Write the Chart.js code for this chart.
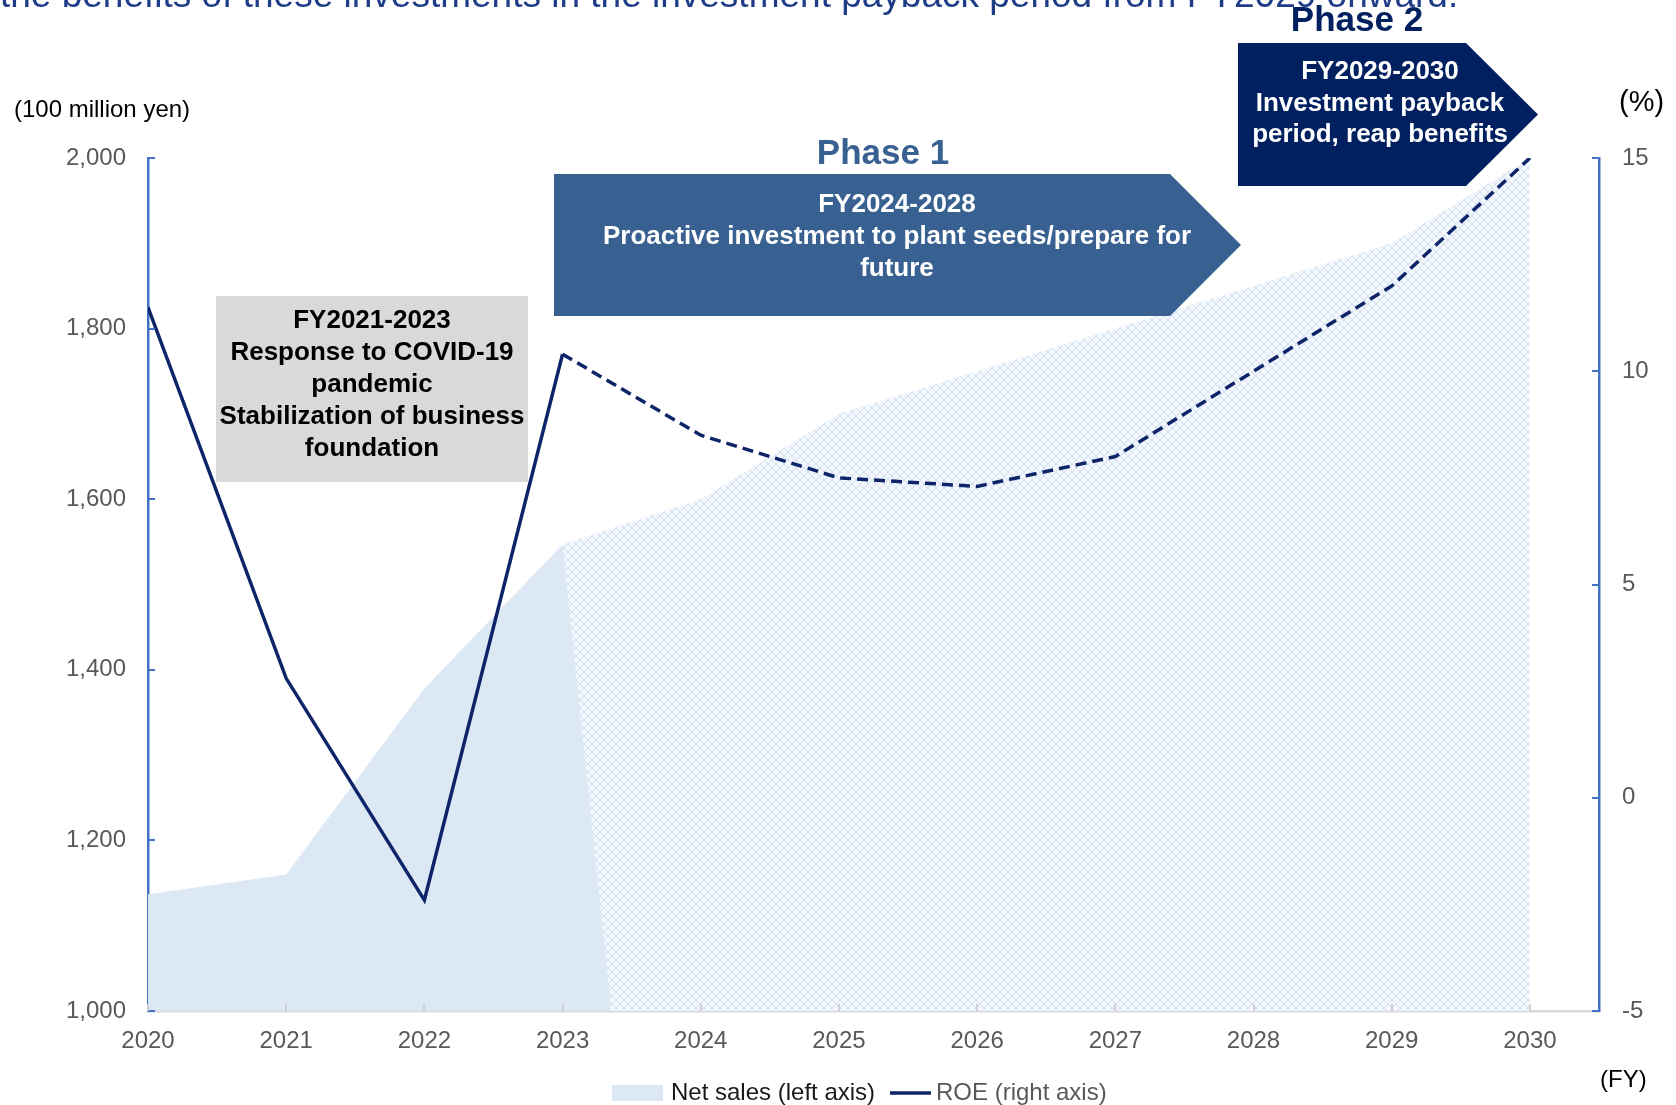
<!DOCTYPE html>
<html>
<head>
<meta charset="utf-8">
<title>Net sales and ROE, FY2020-2030</title>
<script src="https://cdn.jsdelivr.net/npm/chart.js@4.4.1/dist/chart.umd.min.js"></script>
<style>
  html, body { margin: 0; padding: 0; background: #fff; }
  canvas { display: block; }
</style>
</head>
<body>
<canvas id="sales-roe-chart" width="1676" height="1105"></canvas>
<script>
// Fiscal years (x axis)
var years = [2020, 2021, 2022, 2023, 2024, 2025, 2026, 2027, 2028, 2029, 2030];
// Net sales results, 100 million yen. FY2024 is 0 so the results area closes off after FY2023
var salesActual = [1137, 1160, 1378, 1547, 0, null, null, null, null, null, null];
// Net sales plan
var salesPlan = [null, null, null, 1547, 1600, 1700, 1750, 1800, 1850, 1900, 2000];
// ROE, %  (results to FY2023, plan after)
var roe = [11.5, 2.8, -2.4, 10.4, 8.5, 7.5, 7.3, 8.0, 10.0, 12.0, 15.0];
var salesTicks = [1000, 1200, 1400, 1600, 1800, 2000];
var roeTicks = [-5, 0, 5, 10, 15];
var legendLabels = ['Net sales (left axis)', 'ROE (right axis)'];

var headline = 'the benefits of these investments in the investment payback period from FY2029 onward.';
var covidText = ['FY2021-2023', 'Response to COVID-19', 'pandemic', 'Stabilization of business', 'foundation'];
var phase1Text = ['FY2024-2028', 'Proactive investment to plant seeds/prepare for', 'future'];
var phase2Text = ['FY2029-2030', 'Investment payback', 'period, reap benefits'];

var FONT = '"Liberation Sans", Arial, sans-serif';
var NAVY = '#0d2468';
var AXIS_BLUE = '#4472c4';
var TICK_GREY = '#595959';
var SALES_BLUE = '#dde8f5';

var canvas = document.getElementById('sales-roe-chart');
var ctx = canvas.getContext('2d');

// light blue lattice used for the plan area
function makeHatch() {
  var tile = document.createElement('canvas');
  tile.width = 8;
  tile.height = 8;
  var c = tile.getContext('2d');
  c.fillStyle = '#f4f8fd';
  c.fillRect(0, 0, 8, 8);
  c.strokeStyle = '#cfdff2';
  c.lineWidth = 1;
  c.beginPath();
  c.moveTo(0, 0); c.lineTo(8, 8);
  c.moveTo(8, 0); c.lineTo(0, 8);
  c.stroke();
  return ctx.createPattern(tile, 'repeat');
}

function arrowBox(c, left, top, right, tip, bottom, color) {
  var mid = (top + bottom) / 2;
  c.fillStyle = color;
  c.beginPath();
  c.moveTo(left, top);
  c.lineTo(right, top);
  c.lineTo(tip, mid);
  c.lineTo(right, bottom);
  c.lineTo(left, bottom);
  c.closePath();
  c.fill();
}

function textLines(c, lines, x, y, step) {
  lines.forEach(function(line, i) {
    c.fillText(line, x, y + i * step);
  });
}

// boxes, captions, inner tick marks and the legend
var decorations = {
  id: 'decorations',
  afterDraw: function(chart) {
    var c = chart.ctx;
    var area = chart.chartArea;
    var sx = chart.scales.x;
    var sl = chart.scales.ySales;
    var sr = chart.scales.yRoe;
    c.save();

    // inner tick marks
    c.lineWidth = 2;
    c.strokeStyle = AXIS_BLUE;
    salesTicks.forEach(function(v) {
      var y = Math.round(sl.getPixelForValue(v));
      c.beginPath(); c.moveTo(area.left, y); c.lineTo(area.left + 7, y); c.stroke();
    });
    roeTicks.forEach(function(v) {
      var y = Math.round(sr.getPixelForValue(v));
      c.beginPath(); c.moveTo(area.right, y); c.lineTo(area.right - 7, y); c.stroke();
    });
    c.strokeStyle = '#d0d0d0';
    years.forEach(function(v) {
      var x = Math.round(sx.getPixelForValue(v));
      c.beginPath(); c.moveTo(x, area.bottom); c.lineTo(x, area.bottom - 7); c.stroke();
    });

    // headline running off the top edge
    c.fillStyle = '#1f3c88';
    c.font = '37px ' + FONT;
    c.textAlign = 'left';
    c.textBaseline = 'alphabetic';
    c.fillText(headline, 0, 7);

    // unit captions
    c.fillStyle = '#000';
    c.font = '24px ' + FONT;
    c.textBaseline = 'middle';
    c.fillText('(100 million yen)', 14, 110);
    c.fillText('(FY)', 1600, 1080);
    c.font = '29px ' + FONT;
    c.fillText('(%)', 1619, 103);

    // FY2021-2023 box
    c.fillStyle = '#d9d9d9';
    c.fillRect(216, 296, 312, 186);
    c.fillStyle = '#000';
    c.font = 'bold 26px ' + FONT;
    c.textAlign = 'center';
    textLines(c, covidText, 372, 321, 32);

    // Phase 1
    arrowBox(c, 554, 174, 1170, 1241, 316, '#386192');
    c.fillStyle = '#fff';
    textLines(c, phase1Text, 897, 205, 32);
    c.fillStyle = '#386192';
    c.font = 'bold 35px ' + FONT;
    c.textBaseline = 'alphabetic';
    c.fillText('Phase 1', 883, 164);

    // Phase 2
    arrowBox(c, 1238, 43, 1466, 1538, 186, '#002060');
    c.fillStyle = '#002060';
    c.fillText('Phase 2', 1357, 31);
    c.fillStyle = '#fff';
    c.font = 'bold 26px ' + FONT;
    c.textBaseline = 'middle';
    textLines(c, phase2Text, 1380, 72, 31.5);

    // legend
    c.textAlign = 'left';
    c.font = '24px ' + FONT;
    c.fillStyle = SALES_BLUE;
    c.fillRect(612, 1085, 51, 16);
    c.fillStyle = '#1a1a1a';
    c.fillText(legendLabels[0], 671, 1093);
    c.strokeStyle = NAVY;
    c.lineWidth = 3.5;
    c.beginPath(); c.moveTo(890, 1093); c.lineTo(931, 1093); c.stroke();
    c.fillStyle = TICK_GREY;
    c.fillText(legendLabels[1], 936, 1093);

    c.restore();
  }
};

var salesRoeChart = new Chart(ctx, {
  type: 'line',
  data: {
    labels: years,
    datasets: [{
      label: legendLabels[1],
      data: roe,
      yAxisID: 'yRoe',
      borderColor: NAVY,
      borderWidth: 3.5,
      pointRadius: 0,
      tension: 0,
      fill: false,
      // plan years are dashed
      segment: {
        borderDash: function(s) { return s.p0DataIndex >= 3 ? [11, 6] : undefined; }
      }
    }, {
      label: legendLabels[0],
      data: salesActual,
      yAxisID: 'ySales',
      borderWidth: 0,
      pointRadius: 0,
      tension: 0,
      backgroundColor: SALES_BLUE,
      fill: 'start'
    }, {
      label: 'Net sales plan',
      data: salesPlan,
      yAxisID: 'ySales',
      borderWidth: 0,
      pointRadius: 0,
      tension: 0,
      backgroundColor: makeHatch(),
      fill: 'start'
    }]
  },
  options: {
    responsive: false,
    animation: false,
    devicePixelRatio: 1,
    layout: { padding: { top: 158, left: 0, right: 0, bottom: 0 } },
    plugins: {
      legend: { display: false },
      tooltip: { enabled: false }
    },
    scales: {
      x: {
        type: 'linear',
        min: 2020,
        max: 2030.5,
        grid: { display: false, drawTicks: false },
        border: { color: '#d9d9d9', width: 2.5 },
        afterBuildTicks: function(scale) {
          scale.ticks = years.map(function(v) { return { value: v }; });
        },
        ticks: {
          padding: 16,
          color: TICK_GREY,
          font: { family: FONT, size: 24 },
          maxRotation: 0,
          autoSkip: false,
          callback: function(v) { return String(v); }
        },
        afterFit: function(scale) { scale.height = 94; }
      },
      ySales: {
        position: 'left',
        min: 1000,
        max: 2000,
        grid: { display: false, drawTicks: false },
        border: { color: AXIS_BLUE, width: 2.5 },
        afterBuildTicks: function(scale) {
          scale.ticks = salesTicks.map(function(v) { return { value: v }; });
        },
        ticks: {
          padding: 22,
          color: TICK_GREY,
          font: { family: FONT, size: 24 },
          callback: function(v) { return v.toLocaleString('en-US'); }
        },
        afterFit: function(scale) { scale.width = 148; }
      },
      yRoe: {
        position: 'right',
        min: -5,
        max: 15,
        grid: { display: false, drawTicks: false },
        border: { color: AXIS_BLUE, width: 2.5 },
        afterBuildTicks: function(scale) {
          scale.ticks = roeTicks.map(function(v) { return { value: v }; });
        },
        ticks: {
          padding: 23,
          color: TICK_GREY,
          font: { family: FONT, size: 24 },
          callback: function(v) { return String(v); }
        },
        afterFit: function(scale) { scale.width = 77; }
      }
    }
  },
  plugins: [decorations]
});
</script>
</body>
</html>
